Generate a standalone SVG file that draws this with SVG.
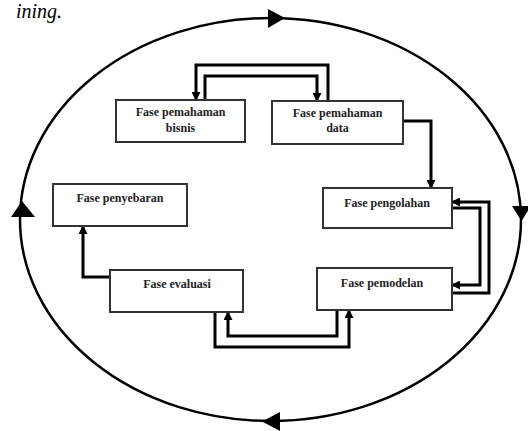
<svg xmlns="http://www.w3.org/2000/svg" width="528" height="431" viewBox="0 0 528 431">
<style>
.box{fill:#fff;stroke:#333;stroke-width:2}
.lbl{font-family:"Liberation Serif",serif;font-weight:bold;font-size:12px;fill:#222;text-anchor:middle}
.con{fill:none;stroke:#000;stroke-width:3}
.ring{fill:none;stroke:#000;stroke-width:2.5}
.big{fill:#000}
.cap{font-family:"Liberation Serif",serif;font-style:italic;font-size:20px;fill:#000;text-anchor:end}
</style>
<defs>
<marker id="ah" markerUnits="userSpaceOnUse" markerWidth="9" markerHeight="9" refX="8" refY="4.5" orient="auto">
<path d="M0,0 L9,4.5 L0,9 z" fill="#000"/>
</marker>
</defs>
<rect width="528" height="431" fill="#fff"/>
<text class="cap" x="62" y="18">ining.</text>
<g id="cycle">
<ellipse class="ring" cx="270.5" cy="219.5" rx="250.5" ry="201.5"/>
<polygon class="big" points="268,9 285,18 268,28"/>
<polygon class="big" points="512,206 531,206 521.5,221"/>
<polygon class="big" points="280,412 262,421.5 280,431"/>
<polygon class="big" points="11,217 35,217 22,201"/>
</g>
<g id="connectors">
<path class="con" d="M328,101 V65 H196 V100" marker-end="url(#ah)"/>
<path class="con" d="M205,100 V76 H317 V101" marker-end="url(#ah)"/>
<path class="con" d="M403,121 H431 V188" marker-end="url(#ah)"/>
<path class="con" d="M452,293 H489 V202 H452" marker-end="url(#ah)"/>
<path class="con" d="M452,208 H480 V285 H452" marker-end="url(#ah)"/>
<path class="con" d="M215,312 V347 H349 V310" marker-end="url(#ah)"/>
<path class="con" d="M337,310 V336 H228 V312" marker-end="url(#ah)"/>
<path class="con" d="M110,277 H83 V226" marker-end="url(#ah)"/>
</g>
<g id="bisnis">
<rect class="box" x="116" y="100" width="129" height="42"/>
<text class="lbl" x="180.5" y="116">Fase pemahaman</text>
<text class="lbl" x="180.5" y="132">bisnis</text>
</g>
<g id="data">
<rect class="box" x="272" y="101" width="131" height="43"/>
<text class="lbl" x="337.5" y="117">Fase pemahaman</text>
<text class="lbl" x="337.5" y="132">data</text>
</g>
<g id="penyebaran">
<rect class="box" x="53" y="184" width="134" height="42"/>
<text class="lbl" x="120" y="202">Fase penyebaran</text>
</g>
<g id="pengolahan">
<rect class="box" x="323" y="188" width="129" height="40"/>
<text class="lbl" x="387" y="207">Fase pengolahan</text>
</g>
<g id="pemodelan">
<rect class="box" x="317" y="268" width="135" height="42"/>
<text class="lbl" x="382" y="287">Fase pemodelan</text>
</g>
<g id="evaluasi">
<rect class="box" x="110" y="270" width="133" height="42"/>
<text class="lbl" x="177" y="288">Fase evaluasi</text>
</g>
</svg>
